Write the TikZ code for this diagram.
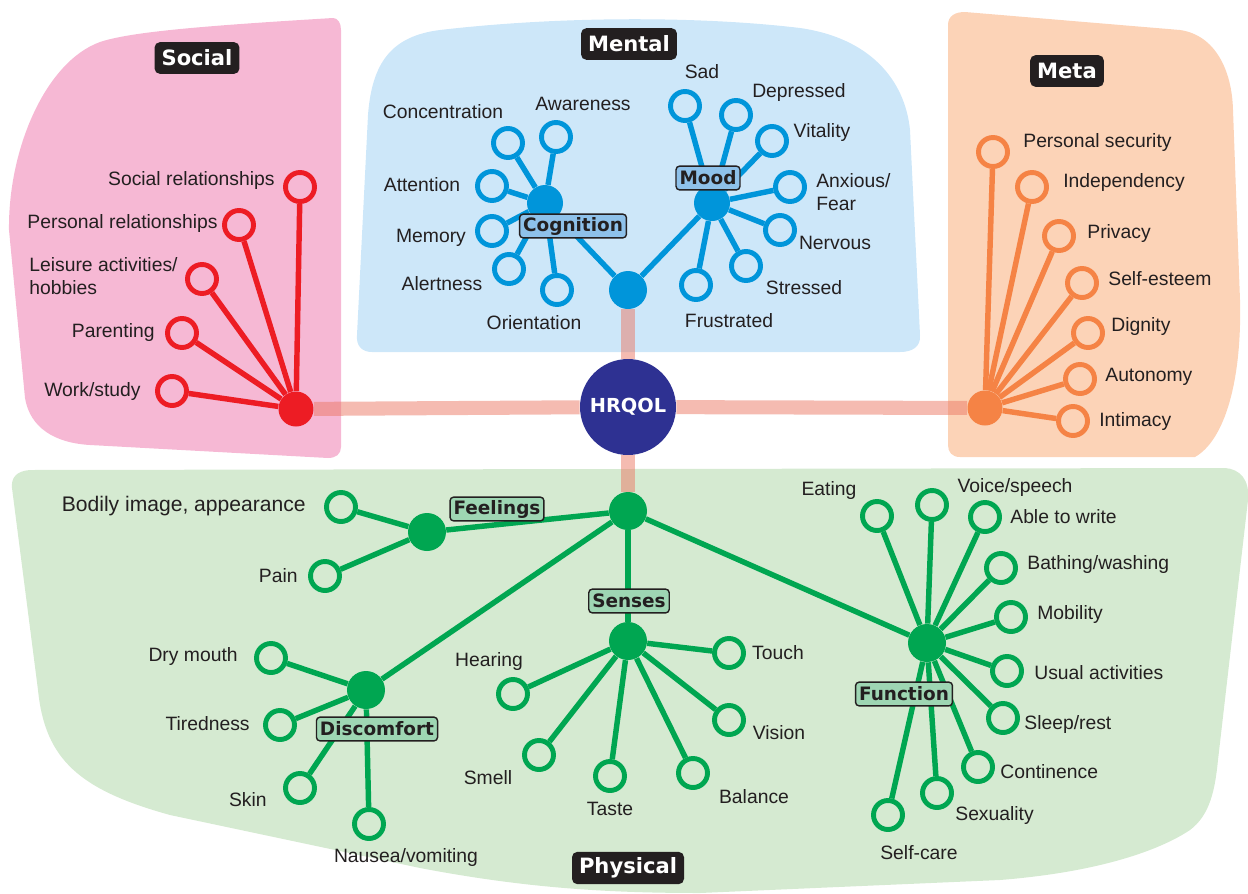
\documentclass[tikz,border=0pt]{standalone}
\usepackage{fontspec}
\setmainfont{Liberation Sans}
\newfontfamily\tagfont{DejaVu Sans}
\usepackage{xcolor}
\definecolor{ink}{HTML}{231F20}
\definecolor{socialred}{HTML}{ED1C24}
\definecolor{mentalblue}{HTML}{0095DA}
\definecolor{metaorange}{HTML}{F58345}
\definecolor{physgreen}{HTML}{00A651}
\definecolor{socialbg}{HTML}{F6B8D4}
\definecolor{mentalbg}{HTML}{CDE7F9}
\definecolor{metabg}{HTML}{FCD3B7}
\definecolor{physbg}{HTML}{D5EAD1}
\definecolor{hrqolblue}{HTML}{2E3192}
\definecolor{barpink}{HTML}{EB7864}
\definecolor{subblue}{HTML}{8EC1EA}
\definecolor{subgreen}{HTML}{9ED6B3}

\begin{document}
\begin{tikzpicture}[x=0.02cm,y=-0.02cm]
  \tikzstyle{every node}=[text=ink,font=\fontsize{11}{13}\selectfont]
  \tikzstyle{hub}=[circle,fill,inner sep=0pt,minimum size=0.72cm]
  \tikzstyle{leaf}=[circle,draw,line width=2.8pt,inner sep=0pt,minimum size=0.58cm]
  \tikzstyle{link}=[line width=3.1pt]
  \tikzstyle{bar}=[line width=8pt,draw=barpink,opacity=0.5]
  \tikzstyle{tag}=[fill=ink,text=white,rounded corners=3pt,inner xsep=4pt,minimum height=18pt,
                   font=\tagfont\bfseries\fontsize{12}{14}\selectfont]
  \tikzstyle{sub}=[draw=ink,line width=0.8pt,rounded corners=2pt,inner xsep=2pt,inner ysep=1pt,
                   minimum height=13.5pt,font=\tagfont\bfseries\fontsize{10.5}{12}\selectfont]
  \tikzstyle{lab}=[align=left,inner sep=0pt]
  \useasboundingbox (0,0) rectangle (1248,893);

  % domain areas
  \fill[socialbg] (333,18) .. controls (338,18) and (341,23) .. (341,30) -- (341,447)
    .. controls (341,454) and (336,458) .. (328,458) -- (90,445)
    .. controls (55,443) and (30,428) .. (25,398) -- (9,230)
    .. controls (8,150) and (45,62) .. (100,42) .. controls (130,32) and (200,26) .. (333,18) -- cycle;
  \fill[mentalbg] (357,335) -- (368,115) .. controls (372,62) and (392,36) .. (440,30)
    .. controls (560,16) and (700,16) .. (800,28) .. controls (870,38) and (905,80) .. (910,130)
    -- (920,335) .. controls (921,347) and (912,352) .. (900,352) -- (372,352)
    .. controls (362,352) and (356,346) .. (357,335) -- cycle;
  \fill[metabg] (948,25) .. controls (948,16) and (955,12) .. (965,12) -- (1180,30)
    .. controls (1215,35) and (1232,70) .. (1233,110) -- (1240,300)
    .. controls (1242,380) and (1225,440) .. (1195,457) -- (960,457)
    .. controls (952,457) and (948,452) .. (948,445) -- cycle;
  \fill[physbg] (12,488) -- (38,690) .. controls (45,760) and (80,790) .. (170,815)
    -- (420,868) .. controls (520,887) and (600,893) .. (700,893) -- (1000,880)
    .. controls (1100,872) and (1160,850) .. (1190,830) .. controls (1210,815) and (1215,790) .. (1218,760)
    -- (1248,500) .. controls (1250,480) and (1240,469) .. (1225,468) -- (30,470)
    .. controls (16,471) and (11,478) .. (12,488) -- cycle;

  % core and domain hubs
  \node[circle,fill=hrqolblue,minimum size=1.92cm,text=white,
        font=\tagfont\bfseries\fontsize{11}{13}\selectfont] (hrqol) at (628,407) {HRQOL};
  \node[hub,fill=socialred,minimum size=0.7cm] (shub) at (296,409) {};
  \node[hub,fill=mentalblue,minimum size=0.76cm] (mhub) at (628,290) {};
  \node[hub,fill=metaorange,minimum size=0.7cm] (ohub) at (985,408) {};
  \node[hub,fill=physgreen,minimum size=0.76cm] (phub) at (628,511) {};
  \draw[bar] (shub) -- (hrqol);
  \draw[bar] (hrqol) -- (ohub);
  \draw[bar] (mhub) -- (hrqol);
  \draw[bar] (hrqol) -- (phub);

  % social
  \foreach \i/\pos/\lpos/\anc/\txt in {1/{300,187}/{275,180}/east/{Social relationships},
      2/{239,225}/{218,223}/east/{Personal relationships},
      3/{202,279}/{29,276}/west/{Leisure activities/\\hobbies},
      4/{182,333}/{155,332}/east/{Parenting},
      5/{172,391}/{141,391}/east/{Work/study}} {
    \node[leaf,draw=socialred] (s\i) at (\pos) {};
    \node[lab,anchor=\anc] (s\i t) at (\lpos) {\txt};
    \draw[link,socialred] (shub) -- (s\i);
  }

  % meta
  \foreach \i/\pos/\lpos/\txt in {1/{993,152}/{1023,142}/{Personal security},
      2/{1032,187}/{1063,182}/{Independency},
      3/{1059,236}/{1087,233}/{Privacy},
      4/{1082,283}/{1108,279}/{Self-esteem},
      5/{1088,333}/{1111,326}/{Dignity},
      6/{1080,379}/{1105,377}/{Autonomy},
      7/{1073,421}/{1099,421}/{Intimacy}} {
    \node[leaf,draw=metaorange] (o\i) at (\pos) {};
    \node[lab,anchor=west] (o\i t) at (\lpos) {\txt};
    \draw[link,metaorange] (ohub) -- (o\i);
  }

  % mental
  \node[hub,fill=mentalblue] (cog) at (545,203) {};
  \node[hub,fill=mentalblue] (mood) at (712,203) {};
  \draw[link,mentalblue] (mhub) -- (cog);
  \draw[link,mentalblue] (mhub) -- (mood);
  \foreach \i/\pos/\lpos/\txt in {1/{508,143}/{443,112}/{Concentration},
      2/{556,137}/{583,104}/{Awareness},
      3/{492,186}/{422,185}/{Attention},
      4/{492,231}/{431,238}/{Memory},
      5/{509,269}/{442,284}/{Alertness},
      6/{557,290}/{534,323}/{Orientation}} {
    \node[leaf,draw=mentalblue] (c\i) at (\pos) {};
    \node[lab] (c\i t) at (\lpos) {\txt};
    \draw[link,mentalblue] (cog) -- (c\i);
  }
  \foreach \i/\pos/\lpos/\anc/\txt in {1/{685,106}/{702,72}/center/{Sad},
      2/{736,115}/{799,92}/center/{Depressed},
      3/{772,141}/{822,132}/center/{Vitality},
      4/{790,187}/{816,192}/west/{Anxious/\\Fear},
      5/{780,230}/{835,243}/center/{Nervous},
      6/{746,266}/{804,288}/center/{Stressed},
      7/{696,285}/{729,321}/center/{Frustrated}} {
    \node[leaf,draw=mentalblue] (d\i) at (\pos) {};
    \node[lab,anchor=\anc] (d\i t) at (\lpos) {\txt};
    \draw[link,mentalblue] (mood) -- (d\i);
  }

  % physical
  \node[hub,fill=physgreen,minimum size=0.76cm] (feel) at (427,532) {};
  \node[hub,fill=physgreen,minimum size=0.76cm] (sens) at (628,641) {};
  \node[hub,fill=physgreen,minimum size=0.76cm] (disc) at (366,690) {};
  \node[hub,fill=physgreen,minimum size=0.76cm] (func) at (927,643) {};
  \foreach \h in {feel,sens,disc,func}
    \draw[link,physgreen] (phub) -- (\h);
  \foreach \i/\pos/\lpos/\txt in {1/{341,507}/{306,506}/{\fontsize{12}{14}\selectfont Bodily image, appearance},
      2/{325,576}/{298,576}/{Pain}} {
    \node[leaf,draw=physgreen] (f\i) at (\pos) {};
    \node[lab,anchor=east] (f\i t) at (\lpos) {\txt};
    \draw[link,physgreen] (feel) -- (f\i);
  }
  \foreach \i/\pos/\lpos/\anc/\txt in {1/{271,658}/{238,656}/east/{Dry mouth},
      2/{280,725}/{250,724}/east/{Tiredness},
      3/{300,788}/{267,800}/east/{Skin},
      4/{369,824}/{406,857}/center/{Nausea/vomiting}} {
    \node[leaf,draw=physgreen] (k\i) at (\pos) {};
    \node[lab,anchor=\anc] (k\i t) at (\lpos) {\txt};
    \draw[link,physgreen] (disc) -- (k\i);
  }
  \foreach \i/\pos/\lpos/\txt in {1/{513,694}/{489,661}/{Hearing},
      2/{539,755}/{488,778}/{Smell},
      3/{610,776}/{610,809}/{Taste},
      4/{693,773}/{754,797}/{Balance},
      5/{729,720}/{779,733}/{Vision},
      6/{729,653}/{778,653}/{Touch}} {
    \node[leaf,draw=physgreen] (e\i) at (\pos) {};
    \node[lab] (e\i t) at (\lpos) {\txt};
    \draw[link,physgreen] (sens) -- (e\i);
  }
  \foreach \i/\pos/\lpos/\anc/\txt in {1/{877,516}/{829,490}/center/{Eating},
      2/{932,505}/{1015,487}/center/{Voice/speech},
      3/{985,517}/{1010,517}/west/{Able to write},
      4/{1001,568}/{1027,564}/west/{Bathing/washing},
      5/{1011,617}/{1037,614}/west/{Mobility},
      6/{1007,671}/{1034,673}/west/{Usual activities},
      7/{1003,718}/{1024,724}/west/{Sleep/rest},
      8/{978,767}/{1000,772}/west/{Continence},
      9/{937,793}/{955,815}/west/{Sexuality},
      10/{888,815}/{919,853}/center/{Self-care}} {
    \node[leaf,draw=physgreen] (u\i) at (\pos) {};
    \node[lab,anchor=\anc] (u\i t) at (\lpos) {\txt};
    \draw[link,physgreen] (func) -- (u\i);
  }

  % sub-domain labels
  \node[sub,fill=subblue] (cogt) at (573,226) {Cognition};
  \node[sub,fill=subblue] (moodt) at (708,178) {Mood};
  \node[sub,fill=subgreen] (feelt) at (497,509) {Feelings};
  \node[sub,fill=subgreen] (senst) at (629,601) {Senses};
  \node[sub,fill=subgreen] (disct) at (377,729) {Discomfort};
  \node[sub,fill=subgreen] (funct) at (904,694) {Function};

  % domain titles
  \node[tag] (social) at (197,58) {Social};
  \node[tag] (mental) at (629,44) {Mental};
  \node[tag] (meta) at (1067,71) {Meta};
  \node[tag] (physical) at (628,868) {Physical};
\end{tikzpicture}
\end{document}
